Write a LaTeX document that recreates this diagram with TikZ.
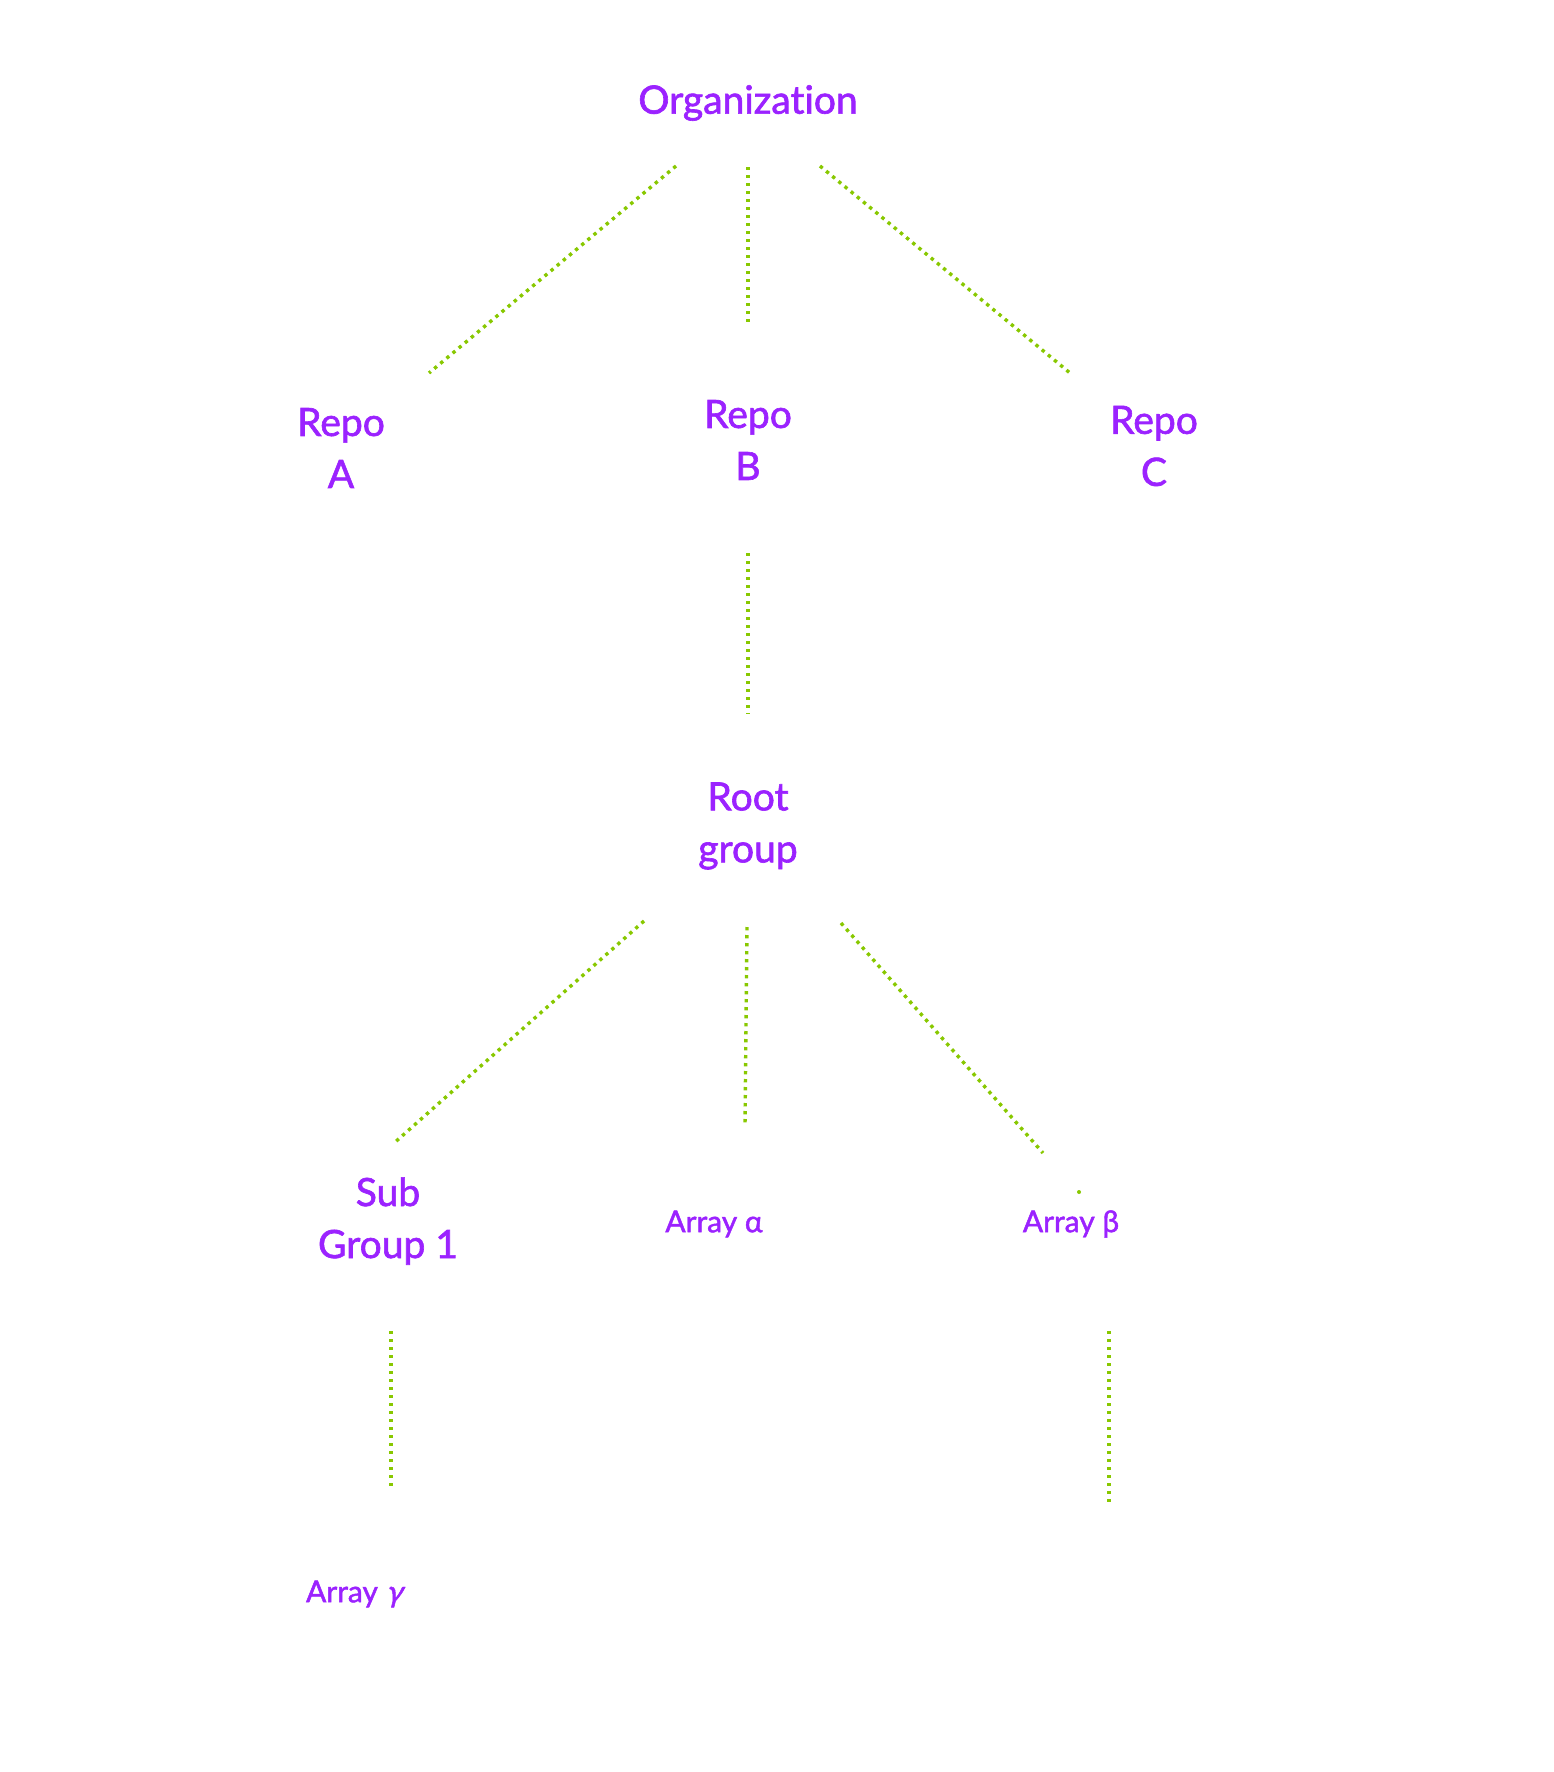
\documentclass[tikz,border=0pt]{standalone}
\usepackage{fontspec}
\setmainfont{Lato}[FakeBold=1.6,Ligatures={NoCommon,NoRare}]
\definecolor{lbl}{HTML}{9B22FF}
\definecolor{lnk}{HTML}{88C800}
\begin{document}
\begin{tikzpicture}[x=1pt,y=-1pt,
  big/.style={text=lbl,font=\fontsize{39}{52}\selectfont,align=center,inner sep=0pt},
  small/.style={text=lbl,font=\fontsize{30}{34}\selectfont,align=center,inner sep=0pt},
  link/.style={draw=lnk,line width=3.4pt,dash pattern=on 3.4pt off 4.6pt}]
\useasboundingbox (0,0) rectangle (1554,1772);
\node[big] (org) at (748,103) {Organization};
\node[big] (ra) at (341,448) {Repo\\A};
\node[big] (rb) at (748,440) {Repo\\B};
\node[big] (rc) at (1154,446) {Repo\\C};
\node[big] (root) at (748,826) {Root\\group};
\node[big] (sg) at (388,1221) {Sub\\Group 1};
\node[small] (aa) at (714,1224) {Array α};
\node[small] (ab) at (1071,1224) {Array β};
\node[small] (ag) at (354,1594) {Array {\addfontfeature{FakeSlant=0.25}γ}};
\coordinate (o1) at (676,166); \coordinate (o1e) at (429,373);
\coordinate (o2) at (748,167); \coordinate (o2e) at (748,322);
\coordinate (o3) at (820,166); \coordinate (o3e) at (1070,373);
\coordinate (b1) at (748,553); \coordinate (b1e) at (748,714);
\coordinate (r1) at (644,921); \coordinate (r1e) at (393,1144);
\coordinate (r2) at (747,927); \coordinate (r2e) at (745,1125);
\coordinate (r3) at (841,923); \coordinate (r3e) at (1043,1153);
\coordinate (s1) at (391,1331); \coordinate (s1e) at (391,1486);
\coordinate (t1) at (1109,1331); \coordinate (t1e) at (1109,1503);
\draw[link] (o1) -- (o1e);
\draw[link] (o2) -- (o2e);
\draw[link] (o3) -- (o3e);
\draw[link] (b1) -- (b1e);
\draw[link] (r1) -- (r1e);
\draw[link] (r2) -- (r2e);
\draw[link] (r3) -- (r3e);
\draw[link] (s1) -- (s1e);
\draw[link] (t1) -- (t1e);
\fill[lnk] (1079,1192) circle (2pt);
\end{tikzpicture}
\end{document}
